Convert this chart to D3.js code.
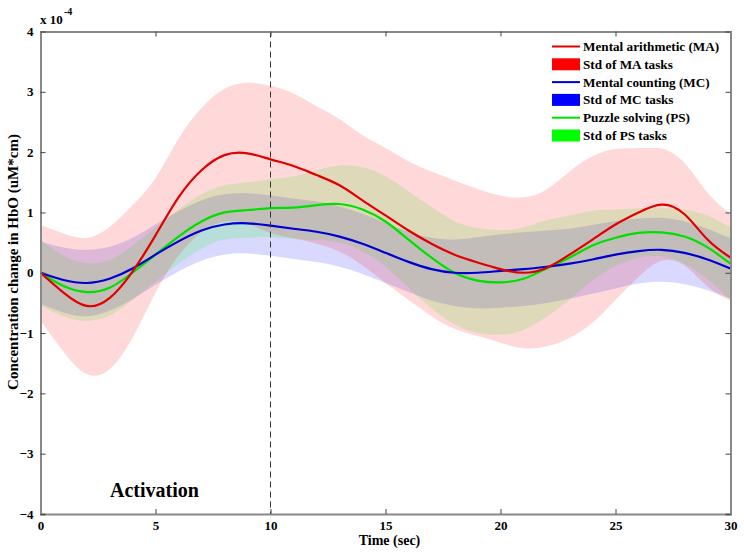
<!DOCTYPE html>
<html><head><meta charset="utf-8">
<script src="https://cdn.jsdelivr.net/npm/d3@7"></script>
<style>
html,body{margin:0;padding:0;background:#fff;}
svg{display:block;}
text{font-family:"Liberation Serif","Times New Roman",serif;font-weight:bold;fill:#000;}
</style></head>
<body><svg id="c" width="744" height="555"></svg>
<script>
// time axis samples (sec)
const times = d3.range(0, 31, 1);
// Mental arithmetic (MA) mean and std (x 1e-4)
const maMean = [0,-0.33,-0.55,-0.42,0.02,0.62,1.25,1.7,1.95,1.98,1.88,1.77,1.62,1.45,1.2,0.95,0.7,0.48,0.3,0.17,0.06,0.0,0.08,0.3,0.55,0.8,1.0,1.13,0.97,0.55,0.25];
const maStd  = [0.79,0.98,1.13,1.18,1.1,0.95,0.97,1.03,1.1,1.17,1.22,1.2,1.14,1.1,1.08,1.12,1.15,1.2,1.23,1.22,1.22,1.25,1.3,1.38,1.38,1.25,1.07,0.93,0.85,0.78,0.72];
// Mental counting (MC)
const mcMean = [0,-0.12,-0.17,-0.1,0.07,0.3,0.52,0.7,0.8,0.82,0.78,0.73,0.68,0.6,0.48,0.33,0.18,0.06,0.0,0.0,0.03,0.06,0.1,0.15,0.22,0.3,0.36,0.38,0.33,0.22,0.07];
const mcStd  = [0.52,0.54,0.55,0.53,0.51,0.5,0.5,0.5,0.5,0.5,0.5,0.5,0.5,0.5,0.5,0.5,0.5,0.52,0.55,0.59,0.61,0.61,0.6,0.58,0.57,0.56,0.54,0.53,0.52,0.51,0.5];
// Puzzle solving (PS)
const psMean = [0,-0.22,-0.32,-0.25,0.0,0.3,0.6,0.85,1.0,1.04,1.07,1.08,1.12,1.14,1.05,0.85,0.55,0.25,0.0,-0.13,-0.16,-0.1,0.07,0.25,0.45,0.58,0.66,0.67,0.6,0.42,0.15];
const psStd  = [0.55,0.5,0.48,0.46,0.45,0.45,0.45,0.45,0.45,0.46,0.48,0.52,0.58,0.64,0.7,0.75,0.8,0.84,0.86,0.87,0.87,0.85,0.8,0.7,0.58,0.47,0.41,0.4,0.45,0.53,0.6];

const xTicks = [0,5,10,15,20,25,30];
const yTicks = [-4,-3,-2,-1,0,1,2,3,4];
const legendLabels = ["Mental arithmetic (MA)","Std of MA tasks","Mental counting (MC)","Std of MC tasks","Puzzle solving (PS)","Std of PS tasks"];
const eventTime = 10;

const svg = d3.select("#c");
const L = 40.5, R = 730.5, T = 31.5, B = 514;
const x = d3.scaleLinear().domain([0,30]).range([L,R]);
const y = d3.scaleLinear().domain([-4,4]).range([B,T]);

svg.append("clipPath").attr("id","clip").append("rect")
  .attr("x",L).attr("y",T).attr("width",R-L).attr("height",B-T);

const series = [
  {mean:mcMean, std:mcStd, band:"#0000ff", line:"#0000d0"},
  {mean:psMean, std:psStd, band:"#00ff00", line:"#00e000"},
  {mean:maMean, std:maStd, band:"#ff0000", line:"#e00000"}
];
const g = svg.append("g").attr("clip-path","url(#clip)");
const curve = d3.curveNatural;
series.forEach(s=>{
  const area = d3.area().curve(curve)
    .x((d,i)=>x(times[i])).y0((d,i)=>y(s.mean[i]-s.std[i])).y1((d,i)=>y(s.mean[i]+s.std[i]));
  g.append("path").datum(s.mean).attr("d",area).attr("fill",s.band).attr("fill-opacity",0.15);
});
[series[1],series[0],series[2]].forEach(s=>{
  const line = d3.line().curve(curve).x((d,i)=>x(times[i])).y(d=>y(d));
  g.append("path").datum(s.mean).attr("d",line).attr("fill","none")
    .attr("stroke",s.line).attr("stroke-width",2.2);
});

// dashed event line
svg.append("line").attr("x1",x(eventTime)).attr("x2",x(eventTime)).attr("y1",T).attr("y2",B)
  .attr("stroke","#333").attr("stroke-width",1).attr("stroke-dasharray","6,4");

// Legend
const lg = svg.append("g");
lg.append("rect").attr("x",545).attr("y",T+0.5).attr("width",R-545-1).attr("height",116).attr("fill","#fff");
const legColors = ["#e00000","#ff0000","#0000d0","#0000ff","#00e000","#00ff00"];
legendLabels.forEach((lab,i)=>{
  const yy = 46.5 + i*17.8;
  if(i%2===0){
    lg.append("line").attr("x1",552).attr("x2",580).attr("y1",yy).attr("y2",yy)
      .attr("stroke",legColors[i]).attr("stroke-width",2);
  } else {
    lg.append("rect").attr("x",552).attr("y",yy-6).attr("width",28).attr("height",12).attr("fill",legColors[i]);
  }
  lg.append("text").attr("x",583).attr("y",yy+4.5).attr("font-size","13.2px").text(lab);
});

// Axes (box)
const axCol = "#888";
const xa = svg.append("g").attr("transform",`translate(0,${B})`)
  .call(d3.axisBottom(x).tickValues(xTicks).tickSize(-5).tickPadding(7).tickFormat(d3.format("d")));
const xt = svg.append("g").attr("transform",`translate(0,${T})`)
  .call(d3.axisTop(x).tickValues(xTicks).tickSize(-5).tickFormat(""));
const ya = svg.append("g").attr("transform",`translate(${L},0)`)
  .call(d3.axisLeft(y).tickValues(yTicks).tickSize(-5).tickPadding(7).tickFormat(d3.format("d")));
const yr = svg.append("g").attr("transform",`translate(${R},0)`)
  .call(d3.axisRight(y).tickValues(yTicks).tickSize(-5).tickFormat(""));
[xa,xt,ya,yr].forEach(a=>{
  a.select(".domain").attr("stroke",axCol).attr("stroke-width",2);
  a.selectAll(".tick line").attr("stroke","#444");
  a.selectAll("text").attr("font-family","Liberation Serif, serif").attr("font-weight","bold")
    .attr("font-size","13px").attr("fill","#000");
});

// exponent
svg.append("text").attr("x",40).attr("y",24).attr("font-size","13px").text("x 10");
svg.append("text").attr("x",64).attr("y",15).attr("font-size","10px").text("-4");

// labels
svg.append("text").attr("x",(L+R)/2+4).attr("y",545).attr("text-anchor","middle").attr("font-size","14px").text("Time (sec)");
svg.append("text").attr("transform",`translate(18,262) rotate(-90)`).attr("text-anchor","middle")
  .attr("font-size","15px").text("Concentration change in HbO (uM*cm)");
svg.append("text").attr("x",110).attr("y",497).attr("font-size","20px").text("Activation");
</script></body></html>
